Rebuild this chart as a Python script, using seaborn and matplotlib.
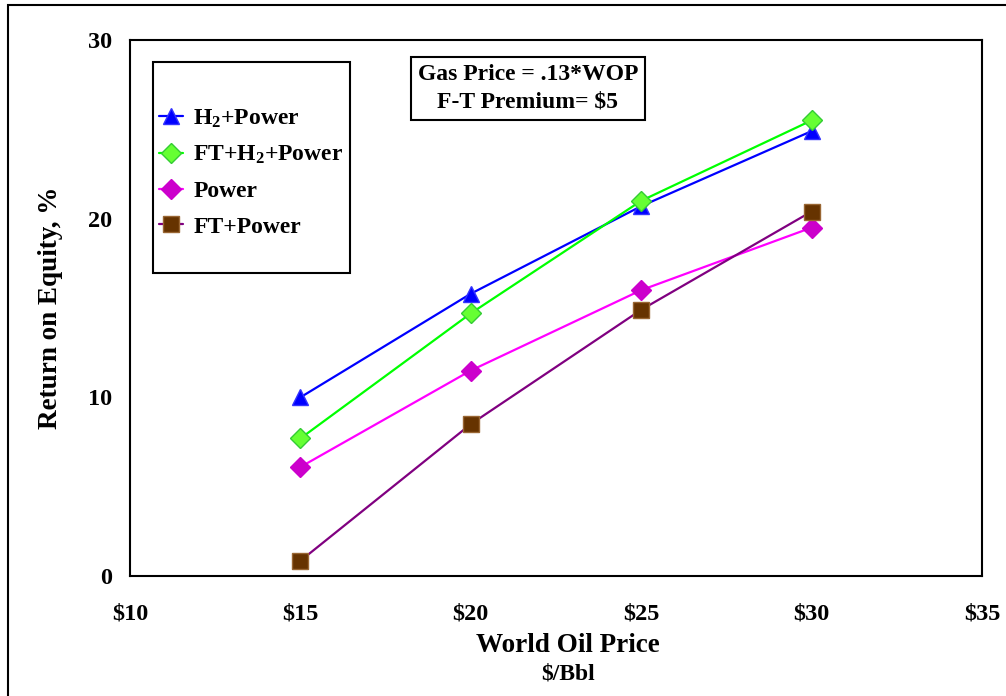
import matplotlib.pyplot as plt
import pandas as pd
import seaborn as sns
from matplotlib.patches import Rectangle
from matplotlib.lines import Line2D

# Data
oil_price = [15, 20, 25, 30]
h2_power = [10.0, 15.8, 20.7, 24.9]
ft_h2_power = [7.7, 14.7, 21.0, 25.5]
power = [6.1, 11.5, 16.0, 19.5]
ft_power = [0.85, 8.5, 14.9, 20.4]

series_names = ["H$_2$+Power", "FT+H$_2$+Power", "Power", "FT+Power"]
x_ticks = [10, 15, 20, 25, 30, 35]
x_tick_labels = ["\\$10", "\\$15", "\\$20", "\\$25", "\\$30", "\\$35"]
y_ticks = [0, 10, 20, 30]

df = pd.DataFrame({
    "Oil Price": oil_price * 4,
    "ROE": h2_power + ft_h2_power + power + ft_power,
    "Case": [n for n in series_names for _ in oil_price],
})

sns.set_style("white")
plt.rcParams["font.family"] = ["Liberation Serif", "DejaVu Serif"]
plt.rcParams["font.weight"] = "bold"
plt.rcParams["mathtext.default"] = "regular"
for key in ["text.color", "axes.labelcolor", "xtick.color", "ytick.color"]:
    plt.rcParams[key] = "black"

fig = plt.figure(figsize=(10.06, 6.96), dpi=100)
ax = fig.add_axes([130 / 1006, 1 - 576 / 696, 852 / 1006, 536 / 696])

# line colour, marker, marker face, marker edge, marker size
styles = {
    "H$_2$+Power": ("#0000FF", "^", "#0000FF", "#3333FF", 12),
    "FT+H$_2$+Power": ("#00FF00", "D", "#66FF33", "#33CC33", 10),
    "Power": ("#FF00FF", "D", "#CC00CC", "#CC00CC", 10),
    "FT+Power": ("#800080", "s", "#663300", "#996633", 12),
}

for name in series_names:
    lc, mk, mf, me, ms = styles[name]
    sub = df[df["Case"] == name]
    sns.lineplot(data=sub, x="Oil Price", y="ROE", ax=ax, color=lc, linewidth=1.6,
                 marker=mk, markersize=ms, markerfacecolor=mf, markeredgecolor=me,
                 markeredgewidth=1, legend=False)

ax.set_xlim(10, 35)
ax.set_ylim(0, 30)
ax.set_xticks(x_ticks)
ax.set_xticklabels(x_tick_labels)
ax.set_yticks(y_ticks)
ax.tick_params(axis="both", direction="in", length=8, width=1.5, labelsize=17.5)
ax.tick_params(axis="x", pad=20)
ax.tick_params(axis="y", pad=13)
for lab in ax.get_xticklabels() + ax.get_yticklabels():
    lab.set_fontweight("bold")
for sp in ax.spines.values():
    sp.set_linewidth(1.5)
    sp.set_color("black")

ax.set_xlabel("")
ax.set_ylabel("Return on Equity, %", fontsize=19.5, fontweight="bold", labelpad=18)
fig.text(568 / 1006, 1 - 645 / 696, "World Oil Price", ha="center", va="center",
         fontsize=19.5, fontweight="bold")
fig.text(568 / 1006, 1 - 674 / 696, "\\$/Bbl", ha="center", va="center",
         fontsize=17, fontweight="bold")

# Annotation box
ax.text(0.467, 0.910, "Gas Price = .13*WOP\nF-T Premium= \\$5", transform=ax.transAxes,
        ha="center", va="center", fontsize=17, fontweight="bold", linespacing=1.45,
        bbox=dict(boxstyle="square,pad=0.3", facecolor="white", edgecolor="black", linewidth=1.5))

# Legend (box drawn separately)
handles = []
for name in series_names:
    lc, mk, mf, me, ms = styles[name]
    handles.append(Line2D([], [], color=lc, linewidth=1.6, marker=mk, markersize=ms,
                          markerfacecolor=mf, markeredgecolor=me))
leg = ax.legend(handles, series_names, loc="center left",
                bbox_to_anchor=((159 - 130) / 852, (576 - 172.5) / 536),
                frameon=False, borderpad=0, labelspacing=0.6, handlelength=1.0,
                handletextpad=0.45, borderaxespad=0,
                prop={"weight": "bold", "size": 17})
ax.add_patch(Rectangle(((153 - 130) / 852, (576 - 273) / 536), (350 - 153) / 852,
                       (273 - 62) / 536, transform=ax.transAxes, fill=False,
                       edgecolor="black", linewidth=1.5, zorder=5))

# Outer frame around the whole picture
fig.patches.append(Rectangle((8 / 1006, -0.01), 1.01, 1 - 5 / 696 + 0.01,
                             transform=fig.transFigure, fill=False,
                             edgecolor="black", linewidth=1.5))

fig.savefig("out.png", dpi=100)
